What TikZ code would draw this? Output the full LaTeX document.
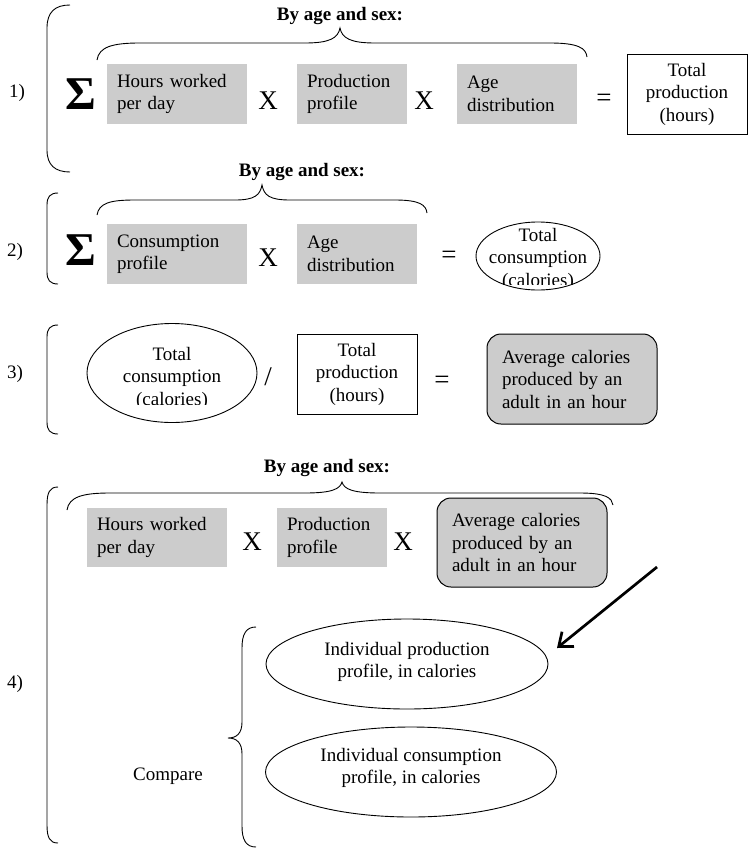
\documentclass[tikz,border=0pt]{standalone}
\usepackage{fontspec}
\setmainfont{Liberation Serif}
\usetikzlibrary{shapes.geometric,arrows.meta}
\definecolor{boxgray}{RGB}{204,204,204}
\tikzset{
  base/.style={font=\fontsize{19}{22.5}\selectfont},
  gbox/.style={fill=boxgray, inner xsep=10pt, inner ysep=0pt, minimum height=60pt, text width=#1, align=left},
  rbox/.style={fill=boxgray, draw=black, line width=1pt, rounded corners=14pt, inner xsep=15pt, inner ysep=0pt, minimum height=89pt, text width=140pt, align=left},
  wbox/.style={draw, line width=1pt, minimum width=120pt, minimum height=80pt, inner sep=0pt, align=center},
  ell/.style={ellipse, draw, line width=0.9pt, inner sep=0pt},
  etext/.style={inner sep=0pt, align=center},
  op/.style={font=\fontsize{27}{30}\selectfont, inner sep=0pt},
  sig/.style={font=\fontsize{47}{50}\selectfont\bfseries, inner sep=0pt},
  lab/.style={inner sep=0pt},
  hdr/.style={font=\fontsize{19}{22}\selectfont\bfseries, inner sep=0pt},
  brc/.style={line width=0.9pt},
  brk/.style={line width=0.9pt},
  bigarrow/.style={line width=2.7pt, -{Straight Barb[length=12pt, width=19pt]}},
}
\begin{document}
\begin{tikzpicture}[x=1pt,y=-1pt,every node/.append style={base}]
\useasboundingbox (0,0) rectangle (752,854);

% ---------- Row 1 ----------
\node[lab] (lab1) at (17,93) {1)};
\draw[brk] (70,5) .. controls (55,5) and (47,12) .. (47,28) -- (47,150) .. controls (47,165) and (55,172) .. (70,172);
\node[hdr] (hd1) at (340,16) {By age and sex:};
\draw[brc] (97,60) .. controls (99,47) and (112,43) .. (140,43) -- (305,43) .. controls (330,43) and (338,38) .. (340,28) .. controls (342,38) and (350,43) .. (375,43) -- (550,43) .. controls (578,43) and (586,48) .. (587,57);
\node[sig] (sig1) at (81,94) {Σ};
\node[gbox=120pt] (h1) at (177,94) {Hours worked\\per day};
\node[op] (x1a) at (268,101) {X};
\node[gbox=90pt] (p1) at (352,94) {Production\\profile};
\node[op] (x1b) at (424,101) {X};
\node[gbox=100pt] (a1) at (517,94) {Age\\distribution};
\node[op] (eq1) at (604,100) {=};
\node[wbox] (t1) at (687,94) {Total\\production\\(hours)};

% ---------- Row 2 ----------
\node[lab] (lab2) at (15,252) {2)};
\draw[brk] (58,193) .. controls (50,193) and (47,197) .. (47,205) -- (47,272) .. controls (47,280) and (50,284) .. (58,284);
\node[hdr] (hd2) at (302,172) {By age and sex:};
\draw[brc] (97,215) .. controls (99,203) and (110,200) .. (135,200) -- (235,200) .. controls (255,200) and (260,195) .. (262,185) .. controls (264,195) and (269,200) .. (290,200) -- (395,200) .. controls (420,200) and (426,205) .. (427,213);
\node[sig] (sig2) at (81,250) {Σ};
\node[gbox=120pt] (c2) at (177,254) {Consumption\\profile};
\node[op] (x2) at (268,258) {X};
\node[gbox=100pt] (a2) at (357,254) {Age\\distribution};
\node[op] (eq2) at (449,257) {=};
\node[ell, minimum width=124pt, minimum height=68pt] (e2) at (538,256) {};
\begin{scope}
  \clip (470,215) rectangle (610,284);
  \node[etext] (e2t) at (538,259) {Total\\consumption\\(calories)};
\end{scope}

% ---------- Row 3 ----------
\node[lab] (lab3) at (15,374) {3)};
\draw[brk] (58,325) .. controls (50,325) and (47,329) .. (47,337) -- (47,422) .. controls (47,430) and (50,434) .. (58,434);
\node[ell, minimum width=170pt, minimum height=99pt] (e3) at (172,373) {};
\begin{scope}
  \clip (80,320) rectangle (265,404);
  \node[etext] (e3t) at (172,378) {Total\\consumption\\(calories)};
\end{scope}
\node[op] (sl3) at (268,377) {/};
\node[wbox] (t3) at (357,374) {Total\\production\\(hours)};
\node[op] (eq3) at (442,382) {=};
\node[rbox, minimum height=90pt] (r3) at (572,379) {Average calories\\produced by an\\adult in an hour};

% ---------- Row 4 ----------
\node[hdr] (hd4) at (327,468) {By age and sex:};
\draw[brc] (67,510) .. controls (69,497) and (82,493) .. (110,493) -- (305,493) .. controls (332,493) and (340,489) .. (342,482) .. controls (344,489) and (352,493) .. (380,493) -- (580,493) .. controls (606,493) and (612,498) .. (613,505);
\node[lab] (lab4) at (15,684) {4)};
\draw[brk] (58,487) .. controls (50,487) and (47,492) .. (47,505) -- (47,825) .. controls (47,838) and (50,843) .. (58,843);
\node[gbox=120pt, minimum height=59pt] (h4) at (157,537.5) {Hours worked\\per day};
\node[op] (x4a) at (252,542) {X};
\node[gbox=90pt, minimum height=59pt] (p4) at (332,537.5) {Production\\profile};
\node[op] (x4b) at (403,542) {X};
\node[rbox] (r4) at (522,542.5) {Average calories\\produced by an\\adult in an hour};

\coordinate (arS) at (657,567);
\coordinate (arE) at (557,648);
\draw[bigarrow] (arS) -- (arE);

\node[ell, minimum width=282pt, minimum height=90pt] (ie1) at (407,664) {};
\node[etext] (ie1t) at (407,662) {Individual production\\profile, in calories};
\node[ell, minimum width=291pt, minimum height=90pt] (ie2) at (411,772) {};
\node[etext] (ie2t) at (411,768) {Individual consumption\\profile, in calories};

\draw[brk] (256,627) .. controls (246,627) and (242,634) .. (242,648) -- (242,722) .. controls (242,733) and (237,738) .. (228,738) .. controls (237,738) and (242,743) .. (242,754) -- (242,826) .. controls (242,840) and (246,847) .. (256,847);
\node[lab] (cmp) at (168,776) {Compare};
\end{tikzpicture}
\end{document}
